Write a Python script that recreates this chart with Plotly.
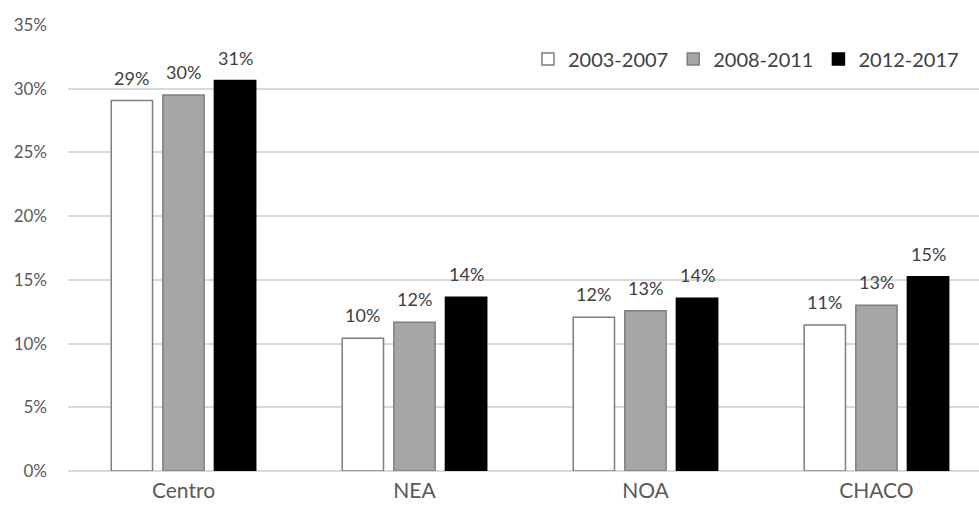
import plotly.graph_objects as go

categories = ["Centro", "NEA", "NOA", "CHACO"]
series_names = ["2003-2007", "2008-2011", "2012-2017"]
v_2003_2007 = [0.2907, 0.1042, 0.1206, 0.1146]
v_2008_2011 = [0.2950, 0.1167, 0.1258, 0.1300]
v_2012_2017 = [0.3064, 0.1363, 0.1355, 0.1525]
tick_vals = [0, 0.05, 0.10, 0.15, 0.20, 0.25, 0.30, 0.35]
tick_text = ["0%", "5%", "10%", "15%", "20%", "25%", "30%", "35%"]

series_values = [v_2003_2007, v_2008_2011, v_2012_2017]
fills = ["#FFFFFF", "#A6A6A6", "#000000"]
lines = ["#7F7F7F", "#7F7F7F", "#000000"]

font_family = "Lato, 'Open Sans', sans-serif"
bargap = 0.33
x_range = [-0.5, 3.444]
plot_left, plot_right = 68, 979
cat_px = (plot_right - plot_left) / (x_range[1] - x_range[0])
slot_px = cat_px * (1 - bargap) / len(series_names)

fig = go.Figure()
for name, vals, fc, lc in zip(series_names, series_values, fills, lines):
    fig.add_trace(go.Bar(
        name=name, x=categories, y=vals,
        marker=dict(color=fc, line=dict(color=lc, width=1.5)),
        hoverinfo="name+y",
    ))

annotations = []
for i, vals in enumerate(series_values):
    for cat, v in zip(categories, vals):
        annotations.append(dict(
            x=cat, y=v, xref="x", yref="y",
            text=f"{round(v*100):.0f}%", showarrow=False,
            xanchor="center", yanchor="bottom",
            xshift=(i - 1) * slot_px, yshift=10,
            font=dict(size=18, color="#404040", family=font_family),
        ))

fig.update_layout(
    width=979, height=510,
    margin=dict(l=plot_left, r=979 - plot_right, t=25, b=39),
    paper_bgcolor="white", plot_bgcolor="white",
    barmode="group", bargap=bargap, bargroupgap=0.2,
    font=dict(family=font_family, size=17, color="#595959"),
    showlegend=True,
    legend=dict(orientation="h", x=0.9835, xanchor="right", y=0.924, yanchor="middle",
                font=dict(size=20, color="#404040"), traceorder="normal",
                itemwidth=30, bgcolor="rgba(0,0,0,0)"),
    annotations=annotations,
)
fig.update_xaxes(range=x_range, showgrid=False, showline=False, ticks="",
                 ticklabelstandoff=5,
                 tickfont=dict(size=21, color="#595959"))
fig.update_yaxes(range=[0, 0.35], tickvals=tick_vals, ticktext=tick_text,
                 showgrid=True, gridcolor="#D9D9D9", gridwidth=1.5,
                 zeroline=True, zerolinecolor="#D9D9D9", zerolinewidth=1.5,
                 showline=False, ticks="", ticklabelstandoff=20,
                 tickfont=dict(size=17, color="#595959"))

fig.write_html("out.html")
